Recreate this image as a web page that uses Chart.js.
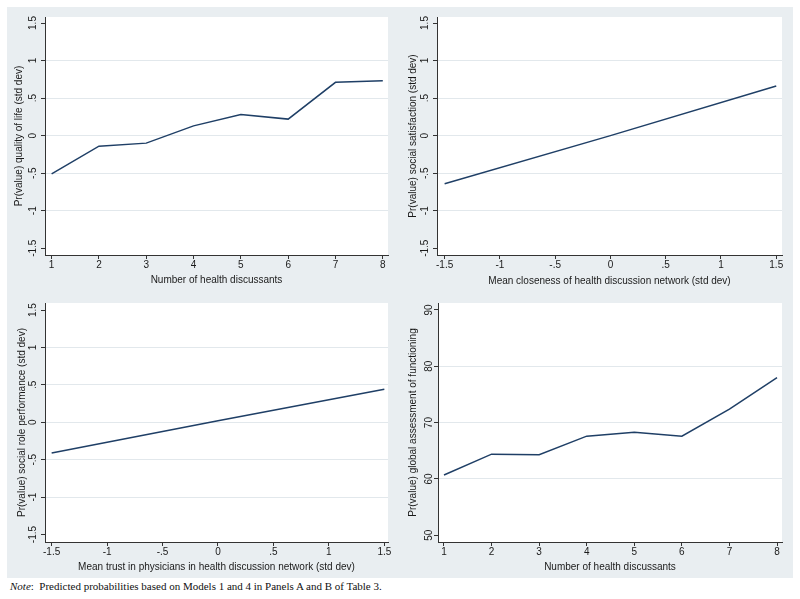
<!DOCTYPE html>
<html>
<head>
<meta charset="utf-8">
<script src="https://cdn.jsdelivr.net/npm/chart.js@4"></script>
<style>
  html, body { margin: 0; padding: 0; background: #fff; }
  body { width: 800px; height: 599px; position: relative; overflow: hidden; }
  #bg { position: absolute; left: 7px; top: 7px; width: 786px; height: 571px; background: #e9eef1; }
  .panel { position: absolute; }
  .panel canvas { display: block; }
  #note { position: absolute; left: 10px; top: 580px; font: 11px "Liberation Serif", "Times New Roman", serif; color: #111; white-space: pre; }
</style>
</head>
<body>
<div id="bg"></div>
<div class="panel" id="pA"><canvas id="cA"></canvas></div>
<div class="panel" id="pB"><canvas id="cB"></canvas></div>
<div class="panel" id="pC"><canvas id="cC"></canvas></div>
<div class="panel" id="pD"><canvas id="cD"></canvas></div>
<div id="note"><i>Note</i>:  Predicted probabilities based on Models 1 and 4 in Panels A and B of Table 3.</div>
<script>
// values
const discussants = [1, 2, 3, 4, 5, 6, 7, 8];
const qualityOfLife = [-0.51, -0.14, -0.10, 0.13, 0.28, 0.22, 0.71, 0.73];
const closeness = [-1.5, 0, 1.5];
const socialSatisfaction = [-0.64, 0.00, 0.66];
const physicianTrust = [-1.5, 0, 1.5];
const socialRole = [-0.41, 0.02, 0.44];
const globalFunctioning = [60.7, 64.4, 64.3, 67.6, 68.3, 67.6, 72.4, 78.0];

// tick labels
const discussantTicks = [1, 2, 3, 4, 5, 6, 7, 8];
const stdDevTicks = [-1.5, -1, -0.5, 0, 0.5, 1, 1.5];
const gafTicks = [50, 60, 70, 80, 90];

const FONT = "'Liberation Sans', Arial, sans-serif";
const TEXT = "#1a1a1a";
const AXIS = "#333";
const GRID = "#e2e8ec";
const LINE = "#1f3f66";

// page boxes (gray region of each panel) and plot regions, in page pixels
const panels = [
  {
    canvas: "cA", wrap: "pA", xs: discussants, ys: qualityOfLife,
    xTicks: discussantTicks, yTicks: stdDevTicks, xRange: [0.86, 8.11], yRange: [-1.59, 1.58],
    xTitle: "Number of health discussants", yTitle: "Pr(value) quality of life (std dev)",
    box: { left: 7, top: 7, right: 392, bottom: 292 }, plot: { left: 45, top: 17, right: 388, bottom: 255 },
    yTitleX: 19, xTitleY: 280,
  },
  {
    canvas: "cB", wrap: "pB", xs: closeness, ys: socialSatisfaction,
    xTicks: stdDevTicks, yTicks: stdDevTicks, xRange: [-1.569, 1.552], yRange: [-1.59, 1.58],
    xTitle: "Mean closeness of health discussion network (std dev)", yTitle: "Pr(value) social satisfaction (std dev)",
    box: { left: 399, top: 7, right: 793, bottom: 292 }, plot: { left: 437, top: 17, right: 782, bottom: 255 },
    yTitleX: 413, xTitleY: 281,
  },
  {
    canvas: "cC", wrap: "pC", xs: physicianTrust, ys: socialRole,
    xTicks: stdDevTicks, yTicks: stdDevTicks, xRange: [-1.56, 1.533], yRange: [-1.6, 1.594],
    xTitle: "Mean trust in physicians in health discussion network (std dev)", yTitle: "Pr(value) social role performance (std dev)",
    box: { left: 7, top: 292, right: 392, bottom: 578 }, plot: { left: 45, top: 303, right: 388, bottom: 542 },
    yTitleX: 22, xTitleY: 567,
  },
  {
    canvas: "cD", wrap: "pD", xs: discussants, ys: globalFunctioning,
    xTicks: discussantTicks, yTicks: gafTicks, xRange: [0.874, 8.105], yRange: [48.8, 91.24],
    xTitle: "Number of health discussants", yTitle: "Pr(value) global assessment of functioning",
    box: { left: 399, top: 292, right: 793, bottom: 578 }, plot: { left: 438, top: 303, right: 782, bottom: 542 },
    yTitleX: 413, xTitleY: 567,
  },
];

// Stata-style numbers: ".5" and "-.5" without the leading zero
function stataNum(v) {
  return String(v).replace(/^(-?)0\./, "$1.");
}

const whitePlot = {
  id: "whitePlot",
  beforeDraw(chart) {
    const { ctx, chartArea: a } = chart;
    ctx.save();
    ctx.fillStyle = "#fff";
    ctx.fillRect(a.left, a.top, a.right - a.left, a.bottom - a.top);
    ctx.restore();
  },
};

function buildPanel(p) {
  const W = p.box.right - p.box.left;
  const H = p.box.bottom - p.box.top;
  const L = p.plot.left - p.box.left;
  const T = p.plot.top - p.box.top;
  const R = p.box.right - p.plot.right;
  const B = p.box.bottom - p.plot.bottom;

  const wrap = document.getElementById(p.wrap);
  wrap.style.left = p.box.left + "px";
  wrap.style.top = p.box.top + "px";
  const cv = document.getElementById(p.canvas);
  cv.width = W;
  cv.height = H;

  const firstY = p.yTicks[0];
  const lastY = p.yTicks[p.yTicks.length - 1];

  return new Chart(cv.getContext("2d"), {
    type: "line",
    data: {
      datasets: [{
        data: p.xs.map((x, i) => ({ x: x, y: p.ys[i] })),
        borderColor: LINE,
        borderWidth: 1.5,
        pointRadius: 0,
        tension: 0,
        fill: false,
      }],
    },
    options: {
      responsive: false,
      animation: false,
      devicePixelRatio: 1,
      layout: { padding: { left: 0, top: T, right: R, bottom: 0 } },
      plugins: { legend: { display: false }, tooltip: { enabled: false } },
      scales: {
        x: {
          type: "linear",
          min: p.xRange[0],
          max: p.xRange[1],
          afterFit: (s) => { s.height = B; },
          afterBuildTicks: (s) => { s.ticks = p.xTicks.map((v) => ({ value: v })); },
          grid: { drawOnChartArea: false, drawTicks: true, tickLength: 4, tickColor: AXIS, tickWidth: 1 },
          border: { display: true, color: AXIS, width: 1 },
          ticks: {
            padding: 0, color: TEXT, font: { family: FONT, size: 10 },
            maxRotation: 0, autoSkip: false, callback: (v) => stataNum(v),
          },
          title: {
            display: true, text: p.xTitle, color: TEXT, font: { family: FONT, size: 10 },
            padding: { top: 0, bottom: p.box.bottom - p.xTitleY - 6 },
          },
        },
        y: {
          type: "linear",
          min: p.yRange[0],
          max: p.yRange[1],
          afterFit: (s) => { s.width = L; },
          afterBuildTicks: (s) => { s.ticks = p.yTicks.map((v) => ({ value: v })); },
          grid: {
            color: (ctx) => (ctx.tick && (ctx.tick.value === firstY || ctx.tick.value === lastY)) ? "rgba(0,0,0,0)" : GRID,
            lineWidth: 1, tickLength: 4, tickColor: AXIS, tickWidth: 1,
          },
          border: { display: true, color: AXIS, width: 1 },
          ticks: {
            padding: -1, color: TEXT, font: { family: FONT, size: 10 },
            minRotation: 90, maxRotation: 90, crossAlign: "center", autoSkip: false,
            callback: (v) => stataNum(v),
          },
          title: {
            display: true, text: p.yTitle, color: TEXT, font: { family: FONT, size: 10 },
            padding: { top: p.yTitleX - p.box.left - 6, bottom: 0 },
          },
        },
      },
    },
    plugins: [whitePlot],
  });
}

panels.forEach(buildPanel);
</script>
</body>
</html>
